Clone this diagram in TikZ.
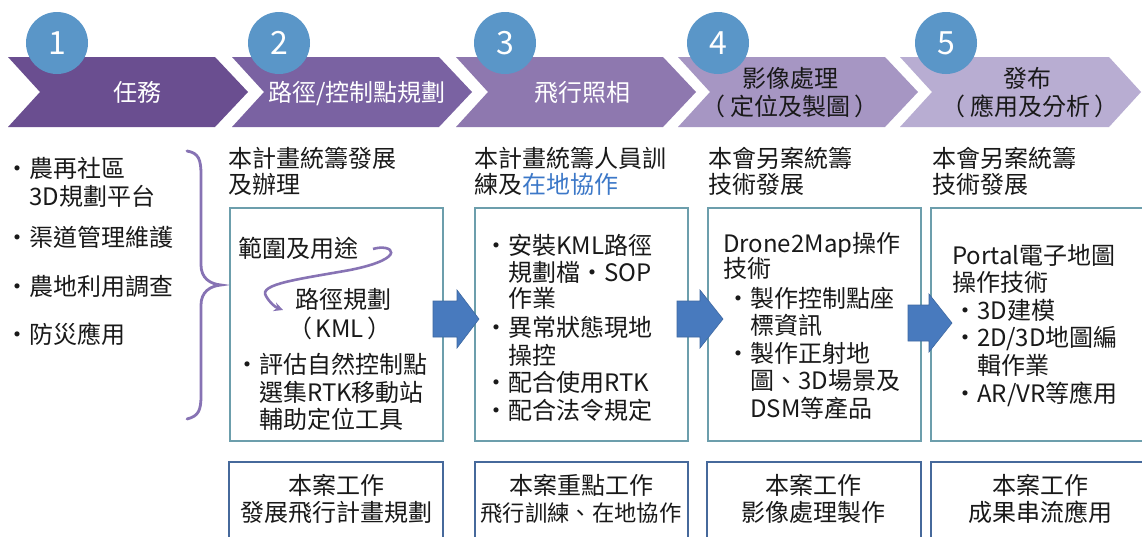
\documentclass[tikz,border=0pt]{standalone}
\usepackage{fontspec}
\setmainfont{Noto Sans CJK TC}
\usetikzlibrary{arrows.meta}
\definecolor{chA}{RGB}{106,78,144}
\definecolor{chB}{RGB}{122,98,162}
\definecolor{chC}{RGB}{142,120,175}
\definecolor{chD}{RGB}{166,150,195}
\definecolor{chE}{RGB}{184,173,210}
\definecolor{circc}{RGB}{90,150,200}
\definecolor{cboxc}{RGB}{108,158,172}
\definecolor{bboxc}{RGB}{70,105,155}
\definecolor{arrc}{RGB}{72,122,190}
\definecolor{bracec}{RGB}{135,115,180}
\definecolor{ink}{RGB}{25,25,25}
\definecolor{bluetxt}{RGB}{60,120,200}
\newcommand\bodyfont{\fontsize{24}{28}\selectfont}
\newcommand\numfont{\fontsize{32}{36}\selectfont}
\begin{document}
\begin{tikzpicture}[x=1pt,y=-1pt,
  txt/.style={font=\bodyfont, inner sep=0pt, text=ink},
  wtxt/.style={font=\bodyfont, inner sep=0pt, text=white},
  numcirc/.style={circle, fill=circc, minimum size=62pt, inner sep=0pt, text=white, font=\numfont},
  cboxline/.style={draw=cboxc, line width=2.6pt},
  bboxline/.style={draw=bboxc, line width=2.4pt},
  blockarr/.style={fill=arrc, draw=arrc!85!black, line width=0.6pt},
  bracepath/.style={draw=bracec, line width=2.8pt, line cap=round},
  curvarr/.style={draw=bracec, line width=2.6pt, -{Stealth[length=9pt,width=9pt]}}]
\useasboundingbox (0,0) rectangle (1142,536);
\clip (0,0) rectangle (1142,536);
\fill[white] (0,0) rectangle (1142,536);

% chevrons
\fill[chA] (8,57) -- (215,57) -- (248,92) -- (215,127) -- (8,127) -- (40,92) -- cycle;
\fill[chB] (232,57) -- (439,57) -- (472,92) -- (439,127) -- (232,127) -- (264,92) -- cycle;
\fill[chC] (456,57) -- (663,57) -- (696,92) -- (663,127) -- (456,127) -- (488,92) -- cycle;
\fill[chD] (678,57) -- (885,57) -- (918,92) -- (885,127) -- (678,127) -- (710,92) -- cycle;
\fill[chE] (900,57) -- (1109,57) -- (1141,92) -- (1109,127) -- (900,127) -- (932,92) -- cycle;

\node[wtxt, anchor=base] (ct1) at (137,101) {任務};
\node[wtxt, anchor=base] (ct2) at (357,101) {路徑/控制點規劃};
\node[wtxt, anchor=base] (ct3) at (582,101) {飛行照相};
\node[txt, anchor=base] (ct4a) at (790,87) {影像處理};
\node[txt, anchor=base] (ct4b) at (790,115) {（\hspace{5pt}定位及製圖\hspace{5pt}）};
\node[txt, anchor=base] (ct5a) at (1027,87) {發布};
\node[txt, anchor=base] (ct5b) at (1030,115) {（\hspace{5pt}應用及分析\hspace{5pt}）};

% numbered circles
\node[numcirc] (n1) at (57,43) {1};
\node[numcirc] (n2) at (279,43) {2};
\node[numcirc] (n3) at (505,43) {3};
\node[numcirc] (n4) at (718,43) {4};
\node[numcirc] (n5) at (946,43) {5};

% left list
\node[txt, anchor=base west] (l1) at (5,177) {・農再社區};
\node[txt, anchor=base west] (l1b) at (29,205) {3D規劃平台};
\node[txt, anchor=base west] (l2) at (5,246) {・渠道管理維護};
\node[txt, anchor=base west] (l3) at (5,295) {・農地利用調查};
\node[txt, anchor=base west] (l4) at (5,343) {・防災應用};

% brace
\draw[bracepath] (187,151) .. controls (199,153) and (201,160) .. (201,175) -- (201,265)
  .. controls (201,278) and (210,284) .. (221,285)
  .. controls (210,286) and (201,292) .. (201,305) -- (201,395)
  .. controls (201,410) and (199,416) .. (187,419);

% column headings
\node[txt, anchor=base west] (h1a) at (228,167) {本計畫統籌發展};
\node[txt, anchor=base west] (h1b) at (228,193) {及辦理};
\node[txt, anchor=base west] (h2a) at (474,167) {本計畫統籌人員訓};
\node[txt, anchor=base west] (h2b) at (474,193) {練及\textcolor{bluetxt}{在地協作}};
\node[txt, anchor=base west] (h3a) at (708,167) {本會另案統籌};
\node[txt, anchor=base west] (h3b) at (708,193) {技術發展};
\node[txt, anchor=base west] (h4a) at (932,167) {本會另案統籌};
\node[txt, anchor=base west] (h4b) at (932,193) {技術發展};

% content boxes
\draw[cboxline] (230,208) rectangle (443,441);
\draw[cboxline] (475,208) rectangle (688,441);
\draw[cboxline] (708,208) rectangle (921,441);
\draw[cboxline] (931,208) rectangle (1150,441);

% bottom boxes
\draw[bboxline] (229,462) rectangle (443,550);
\draw[bboxline] (475,462) rectangle (688,550);
\draw[bboxline] (707,462) rectangle (921,550);
\draw[bboxline] (931,462) rectangle (1150,550);

% box 1 content
\node[txt, anchor=base west] (b1a) at (238,257) {範圍及用途};
\node[txt, anchor=base] (b1b) at (343,308) {路徑規劃};
\node[txt, anchor=base] (b1c) at (340,337) {（\hspace{3pt}KML\hspace{3pt}）};
\node[txt, anchor=base west] (b1d) at (235,373) {・評估自然控制點};
\node[txt, anchor=base west] (b1e) at (259,401) {選集RTK移動站};
\node[txt, anchor=base west] (b1f) at (259,428) {輔助定位工具};
\draw[curvarr] (373,249) .. controls (392,243) and (410,258) .. (350,270)
  .. controls (300,279) and (258,284) .. (266,296)
  .. controls (270,303) and (275,307) .. (283,310);

% box 2 content
\node[txt, anchor=base west] (b2a) at (484,254) {・安裝KML路徑};
\node[txt, anchor=base west] (b2b) at (508,281) {規劃檔・SOP};
\node[txt, anchor=base west] (b2c) at (508,307) {作業};
\node[txt, anchor=base west] (b2d) at (484,336) {・異常狀態現地};
\node[txt, anchor=base west] (b2e) at (508,364) {操控};
\node[txt, anchor=base west] (b2f) at (484,391) {・配合使用RTK};
\node[txt, anchor=base west] (b2g) at (484,419) {・配合法令規定};

% box 3 content
\node[txt, anchor=base west] (b3a) at (723,252) {Drone2Map操作};
\node[txt, anchor=base west] (b3b) at (723,277) {技術};
\node[txt, anchor=base west] (b3c) at (726,307) {・製作控制點座};
\node[txt, anchor=base west] (b3d) at (750,334) {標資訊};
\node[txt, anchor=base west] (b3e) at (726,362) {・製作正射地};
\node[txt, anchor=base west] (b3f) at (750,389) {圖、3D場景及};
\node[txt, anchor=base west] (b3g) at (750,417) {DSM等產品};

% box 4 content
\node[txt, anchor=base west] (b4a) at (952,264) {Portal電子地圖};
\node[txt, anchor=base west] (b4b) at (952,291) {操作技術};
\node[txt, anchor=base west] (b4c) at (953,319) {・3D建模};
\node[txt, anchor=base west] (b4d) at (953,346) {・2D/3D地圖編};
\node[txt, anchor=base west] (b4e) at (977,374) {輯作業};
\node[txt, anchor=base west] (b4f) at (953,402) {・AR/VR等應用};

% bottom box texts
\node[txt, anchor=base] (f1a) at (336,494) {本案工作};
\node[txt, anchor=base] (f1b) at (336,521) {發展飛行計畫規劃};
\node[txt, anchor=base] (f2a) at (581,494) {本案重點工作};
\node[txt, anchor=base, font=\fontsize{22.3}{26}\selectfont] (f2b) at (581,521) {飛行訓練、在地協作};
\node[txt, anchor=base] (f3a) at (813,494) {本案工作};
\node[txt, anchor=base] (f3b) at (813,521) {影像處理製作};
\node[txt, anchor=base] (f4a) at (1040,494) {本案工作};
\node[txt, anchor=base] (f4b) at (1040,521) {成果串流應用};

% block arrows
\path[blockarr] (433,301) -- (457,301) -- (457,290) -- (479,319) -- (457,348) -- (457,337) -- (433,337) -- cycle;
\path[blockarr] (677,301) -- (700,301) -- (700,290) -- (723,319) -- (700,348) -- (700,337) -- (677,337) -- cycle;
\path[blockarr] (908,305) -- (929,305) -- (929,294) -- (952,323) -- (929,352) -- (929,341) -- (908,341) -- cycle;
\end{tikzpicture}
\end{document}
